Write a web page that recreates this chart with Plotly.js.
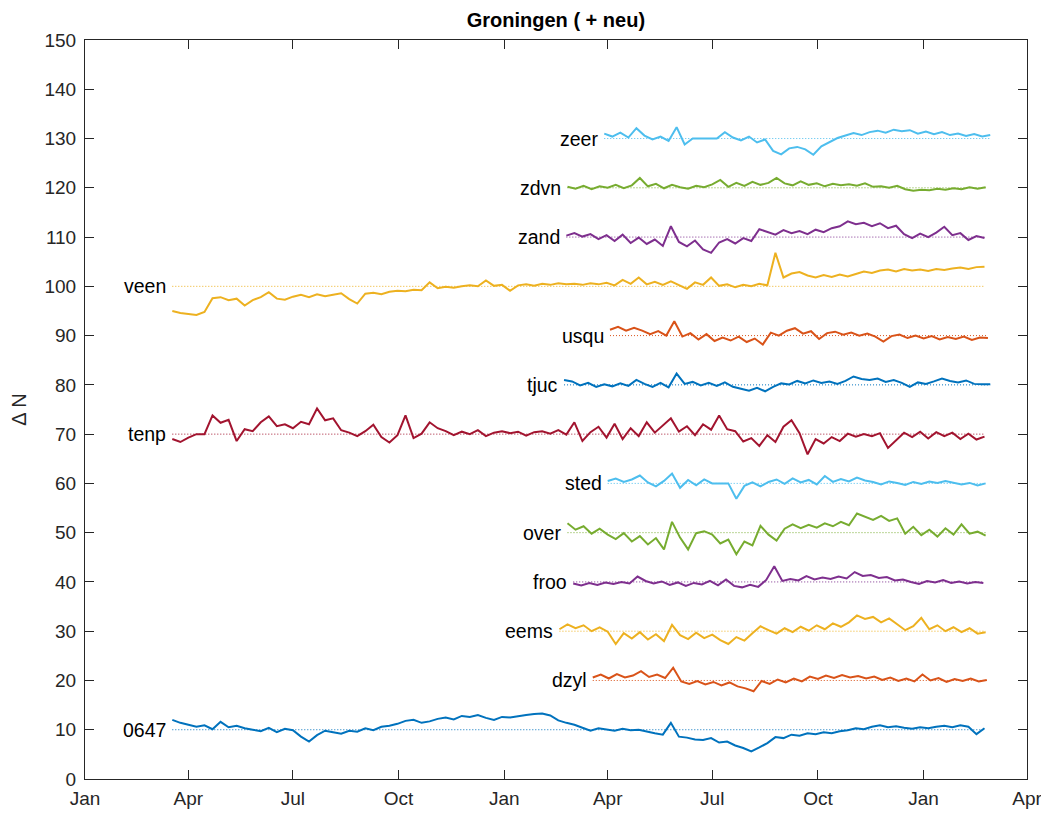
<!DOCTYPE html>
<html>
<head>
<meta charset="utf-8">
<script src="https://cdn.plot.ly/plotly-3.0.1.min.js"></script>
<style>html,body{margin:0;padding:0;background:#fff;}#chart{width:1041px;height:814px;}</style>
</head>
<body>
<div id="chart"></div>
<script>
// ---- data (weekly samples) ----
const stationNames = ['0647','dzyl','eems','froo','over','sted','tenp','tjuc','usqu','veen','zand','zdvn','zeer'];
const baseValues   = [10, 20, 30, 40, 50, 60, 70, 80, 90, 100, 110, 120, 130];
const startDates   = ['2017-03-18','2018-03-19','2018-02-18','2018-03-02','2018-02-25','2018-04-01','2017-03-18','2018-02-22','2018-04-03','2017-03-18','2018-02-24','2018-02-25','2018-03-29'];
const stepDays = 7;

const v0647 = [12.0,11.4,11.0,10.6,10.9,10.1,11.6,10.5,10.8,10.3,10.0,9.7,10.4,9.5,10.2,9.9,8.6,7.6,8.9,9.8,9.5,9.2,9.8,9.6,10.3,9.9,10.6,10.8,11.2,11.8,12.0,11.4,11.7,12.2,12.5,12.1,12.8,12.6,13.0,12.4,12.0,12.6,12.5,12.8,13.0,13.2,13.3,12.9,11.9,11.4,11.0,10.4,9.8,10.3,10.1,9.8,10.2,9.9,10.0,9.6,9.3,9.0,11.4,8.6,8.4,8.0,7.9,8.3,7.4,7.6,6.8,6.3,5.6,6.4,7.3,8.5,8.3,9.0,8.8,9.3,9.1,9.5,9.3,9.7,9.9,10.3,10.1,10.6,10.9,10.5,10.7,10.4,10.2,10.5,10.3,10.6,10.8,10.5,10.9,10.6,9.1,10.3];
const vDzyl = [20.6,21.2,20.4,21.3,20.6,21.0,21.9,20.7,21.2,20.5,22.6,19.8,19.3,19.9,19.2,19.7,19.0,19.6,18.8,18.4,17.8,19.9,19.3,20.2,19.6,20.4,19.8,20.8,20.3,21.0,20.5,21.1,20.6,20.9,20.4,20.8,20.1,20.6,19.9,20.4,19.8,21.2,20.0,20.5,19.7,20.3,19.9,20.4,19.8,20.1];
const vEems = [30.4,31.4,30.6,31.2,30.0,30.8,29.9,27.4,29.6,28.5,29.8,28.3,29.4,28.0,31.3,29.2,28.4,29.7,28.6,29.3,28.2,27.4,28.8,28.1,29.6,31.0,30.2,29.5,30.6,29.8,30.9,30.1,31.2,30.4,31.6,30.9,31.8,33.2,32.5,32.9,31.8,32.6,31.4,30.2,31.0,32.7,30.4,31.2,30.0,30.8,29.8,30.6,29.5,29.8];
const vFroo = [39.7,39.3,39.8,39.4,39.9,39.6,40.0,39.7,41.1,40.2,39.7,40.1,39.4,39.9,39.2,39.8,39.5,40.2,39.3,40.5,39.2,38.9,39.4,39.0,40.4,43.2,40.2,40.6,40.3,41.2,40.5,40.9,40.6,41.1,40.7,42.0,41.2,41.4,40.8,41.0,40.3,40.5,40.0,39.6,40.2,39.9,40.4,39.8,40.1,39.7,40.0,39.8];
const vOver = [51.9,50.6,51.3,49.8,50.8,49.6,48.7,49.9,48.2,49.3,47.6,48.9,46.6,52.2,49.0,46.6,49.9,50.3,49.6,47.8,48.6,45.6,48.2,47.4,51.4,49.6,48.4,50.8,51.7,50.9,51.6,51.0,51.9,51.3,52.2,51.5,53.9,53.2,52.6,53.4,52.4,52.9,49.8,51.2,49.5,50.6,49.2,50.9,49.6,51.7,49.8,50.2,49.4];
const vSted = [60.5,61.0,60.3,60.8,61.6,60.2,59.4,60.5,62.0,59.1,60.7,59.6,60.8,60.0,60.0,60.0,56.9,59.5,60.2,59.4,60.3,60.8,59.9,61.0,60.2,60.7,59.8,61.5,60.3,60.9,60.4,61.2,60.6,60.3,59.8,60.4,60.1,59.7,60.3,59.9,60.4,60.1,60.5,60.2,59.8,60.1,59.6,60.0];
const vTenp = [69.0,68.4,69.3,70.0,70.0,73.8,72.3,72.9,68.6,71.0,70.6,72.4,73.6,71.6,72.0,71.2,72.5,72.0,75.2,72.8,73.2,70.8,70.3,69.6,70.6,71.9,69.4,68.3,69.8,73.8,69.2,70.1,72.4,71.2,70.6,69.8,70.5,70.0,70.8,69.6,70.3,70.6,70.2,70.5,69.7,70.4,70.6,70.1,70.8,69.9,72.4,68.6,70.4,71.5,69.3,72.1,69.0,71.2,69.6,72.4,70.3,71.8,73.2,70.5,71.6,69.8,72.0,70.9,73.8,71.0,70.6,68.5,69.2,67.6,69.8,68.4,71.5,72.8,70.2,65.9,69.0,68.1,69.4,68.6,70.1,69.5,70.0,69.6,70.2,67.2,68.7,70.3,69.4,70.5,69.1,70.4,69.6,70.3,69.0,70.1,68.9,69.5];
const vTjuc = [81.0,80.7,79.9,80.4,79.6,80.1,79.7,80.3,79.8,81.0,80.2,79.6,80.4,79.5,82.3,80.2,80.6,79.9,80.4,79.8,80.5,79.6,79.2,78.8,79.4,78.7,79.6,80.3,80.1,80.8,80.3,80.9,80.4,80.7,80.2,80.8,81.7,81.2,81.0,81.3,80.6,81.0,80.4,79.6,80.5,80.2,80.7,81.3,80.8,80.5,80.9,80.2,80.1,80.1];
const vUsqu = [91.2,91.8,91.0,91.6,91.0,90.3,90.9,90.0,92.9,89.8,90.5,89.2,90.3,88.9,89.6,89.0,89.8,88.7,89.4,88.2,90.6,90.0,91.0,91.5,90.4,90.9,89.3,90.5,90.8,90.2,90.6,90.0,90.4,89.8,88.8,89.9,90.2,89.5,90.0,89.4,89.9,89.2,89.7,89.3,89.8,89.1,89.6,89.5];
const vVeen = [95.0,94.6,94.4,94.2,94.8,97.6,97.8,97.2,97.5,96.1,97.2,97.8,98.8,97.5,97.3,97.9,98.3,97.8,98.4,98.0,98.3,98.6,97.4,96.5,98.5,98.7,98.4,98.9,99.1,99.0,99.3,99.2,100.8,99.6,99.9,99.7,100.0,100.2,100.0,101.2,100.1,100.3,99.1,100.2,100.4,100.1,100.5,100.3,100.6,100.4,100.5,100.3,100.6,100.4,100.7,100.2,101.3,100.5,101.8,100.4,100.9,100.3,101.0,100.2,99.5,100.8,100.3,101.8,100.1,100.4,99.8,100.3,100.0,100.5,100.2,106.8,101.8,102.6,102.9,102.2,101.8,102.3,101.9,102.4,102.0,102.5,103.0,102.7,103.2,103.4,103.0,103.5,103.2,103.4,103.1,103.5,103.3,103.6,103.8,103.5,103.9,104.0];
const vZand = [110.3,110.8,110.1,110.6,109.6,110.4,109.2,110.5,108.8,109.9,108.6,109.5,108.2,112.2,109.0,108.1,109.3,107.5,106.8,108.9,109.6,108.7,109.8,109.2,111.6,111.0,110.5,111.4,110.8,111.2,110.6,111.5,111.0,111.8,112.2,113.2,112.6,112.9,112.2,112.8,111.8,112.3,110.6,109.8,110.7,110.0,110.9,112.1,110.4,110.8,109.4,110.2,109.8];
const vZdvn = [120.2,119.8,120.4,119.7,120.3,120.0,120.6,119.9,120.5,122.0,120.3,120.8,119.9,120.6,120.1,119.8,120.4,120.1,120.7,121.6,120.2,121.0,120.4,121.2,120.6,121.0,122.0,120.9,120.5,121.3,120.6,120.9,120.3,120.8,120.5,120.7,120.4,120.9,120.2,120.3,120.0,120.4,119.7,119.4,119.6,119.5,119.8,119.6,119.9,119.7,120.1,119.8,120.1];
const vZeer = [131.0,130.4,131.2,130.2,132.1,130.6,129.8,130.4,129.5,132.3,128.8,130.0,130.0,130.0,130.0,131.3,130.2,129.6,130.4,129.2,129.8,127.5,126.8,128.0,128.3,127.8,126.7,128.4,129.2,130.1,130.6,131.1,130.7,131.3,131.6,131.2,131.8,131.5,131.7,131.0,131.4,130.9,131.3,130.7,131.0,130.5,130.9,130.4,130.7];

const seriesValues = [v0647, vDzyl, vEems, vFroo, vOver, vSted, vTenp, vTjuc, vUsqu, vVeen, vZand, vZdvn, vZeer];
const lineColors = ['#0072BD','#D95319','#EDB120','#7E2F8E','#77AC30','#4DBEEE','#A2142F','#0072BD','#D95319','#EDB120','#7E2F8E','#77AC30','#4DBEEE'];
const monthTicks = ['2017-01-01','2017-04-01','2017-07-01','2017-10-01','2018-01-01','2018-04-01','2018-07-01','2018-10-01','2019-01-01','2019-04-01'];
const monthLabels = ['Jan','Apr','Jul','Oct','Jan','Apr','Jul','Oct','Jan','Apr'];

// ---- build ----
function addDays(s, n) {
  const d = new Date(s + 'T00:00:00Z');
  d.setUTCDate(d.getUTCDate() + n);
  return d.toISOString().slice(0, 10);
}

const FONT = 'Liberation Sans, Arial, Helvetica, sans-serif';
const traces = [];
const annotations = [];
stationNames.forEach((name, k) => {
  const vals = seriesValues[k];
  const xs = vals.map((_, i) => addDays(startDates[k], i * stepDays));
  traces.push({
    x: [xs[0], xs[xs.length - 1]], y: [baseValues[k], baseValues[k]],
    type: 'scatter', mode: 'lines', hoverinfo: 'skip', showlegend: false,
    line: {color: lineColors[k], width: 1, dash: '1px,2px'}
  });
  traces.push({
    x: xs, y: vals, type: 'scatter', mode: 'lines', name: name, showlegend: false,
    line: {color: lineColors[k], width: 2}
  });
  annotations.push({
    x: startDates[k], y: baseValues[k], xref: 'x', yref: 'y',
    text: name, showarrow: false, xanchor: 'right', yanchor: 'middle', xshift: -4,
    font: {family: FONT, size: 19.5, color: '#000'}
  });
});

const axisFont = {family: FONT, size: 19, color: '#262626'};
const layout = {
  width: 1041, height: 814,
  margin: {l: 85, r: 14, t: 40, b: 35, pad: 0},
  paper_bgcolor: '#fff', plot_bgcolor: '#fff',
  title: {text: '<b>Groningen ( + neu)</b>', x: 0.534, xanchor: 'center', y: 0.975, yanchor: 'middle',
          font: {family: FONT, size: 20, color: '#000'}},
  xaxis: {
    type: 'date', range: ['2017-01-01', '2019-04-01'],
    tickmode: 'array', tickvals: monthTicks, ticktext: monthLabels,
    ticks: 'inside', ticklen: 9, tickwidth: 1, tickcolor: '#262626',
    showline: true, linecolor: '#262626', linewidth: 1, mirror: 'ticks',
    showgrid: false, zeroline: false, tickfont: axisFont, ticklabelstandoff: 2,
    ticklabeloverflow: 'allow', automargin: false
  },
  yaxis: {
    range: [0, 150], dtick: 10, tick0: 0,
    ticks: 'inside', ticklen: 9, tickwidth: 1, tickcolor: '#262626',
    showline: true, linecolor: '#262626', linewidth: 1, mirror: 'ticks',
    showgrid: false, zeroline: false, tickfont: axisFont, ticklabelstandoff: 4,
    title: {text: 'Δ N', standoff: 12, font: {family: FONT, size: 20, color: '#262626'}}
  },
  annotations: annotations,
  showlegend: false
};

Plotly.newPlot('chart', traces, layout, {staticPlot: true, displayModeBar: false});
</script>
</body>
</html>
